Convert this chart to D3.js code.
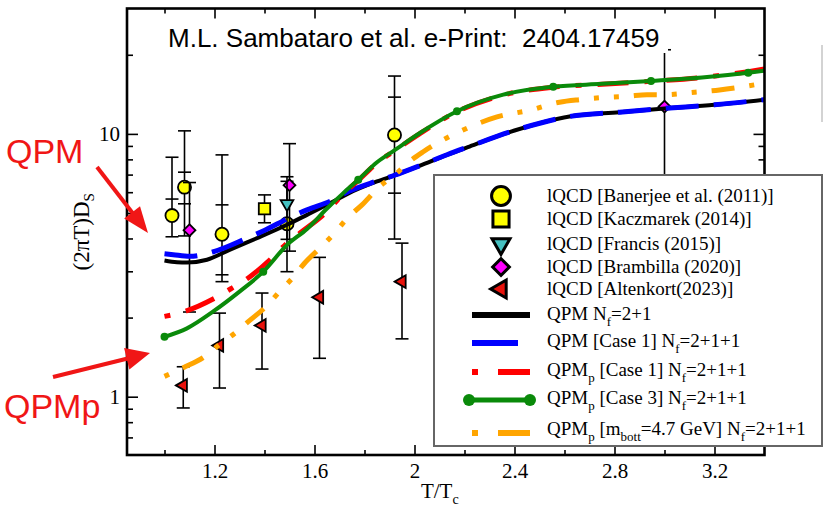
<!DOCTYPE html>
<html>
<head>
<meta charset="utf-8">
<script src="https://cdn.jsdelivr.net/npm/d3@7"></script>
<style>
  body { margin: 0; background: #fff; }
  svg { display: block; }
</style>
</head>
<body>
<svg id="chart" width="823" height="507"></svg>
<script>
// ---------- axis ticks ----------
const xTicksMajor = [1.2, 1.6, 2.0, 2.4, 2.8, 3.2];
const xTicksMinor = [1.0, 1.4, 1.8, 2.2, 2.6, 3.0];
const yTicksMajor = [1, 10];
const yTicksMinor = [0.7, 0.8, 0.9, 2, 3, 4, 5, 6, 7, 8, 9, 20];

// ---------- lattice QCD points (T/Tc, (2piT)Ds, error-bar cap values) ----------
const banerjeeT = [1.03, 1.08, 1.23, 1.49, 1.92];
const banerjeeD = [4.89, 6.27, 4.15, 4.55, 9.91];
const banerjeeCaps = [[4.06, 5.65, 8.15], [4.09, 5.42, 7.15, 10.27], [2.74, 2.91, 5.37, 8.32], [2.99, 6.6], [3.98, 5.95, 13.8, 16.6]];

const kaczmarekT = [1.40];
const kaczmarekD = [5.19];
const kaczmarekCaps = [[4.59, 5.86]];

const francisT = [1.49];
const francisD = [5.42];
const francisCaps = [[3.97, 6.87]];

const brambillaT = [1.10, 1.50, 3.00];
const brambillaD = [4.30, 6.38, 12.7];
const brambillaCaps = [[2.10, 6.53], [3.58, 9.18], [4.5, 20.9]];

const altenkortT = [1.075, 1.22, 1.39, 1.62, 1.95];
const altenkortD = [1.104, 1.567, 1.867, 2.39, 2.74];
const altenkortCaps = [[0.906, 1.30], [1.079, 2.08], [1.274, 2.48], [1.40, 3.39], [1.66, 3.84]];

// ---------- model curves ----------
const qpmT = [1.00, 1.05, 1.09, 1.17, 1.26, 1.38, 1.49, 1.57, 1.675, 1.73, 1.85, 1.92, 2.02, 2.13, 2.22, 2.40, 2.62, 2.82, 3.00, 3.20, 3.40];
const qpmD = [3.30, 3.25, 3.24, 3.32, 3.62, 4.05, 4.51, 4.92, 5.53, 5.9, 6.59, 6.95, 7.55, 8.32, 8.95, 10.3, 11.65, 12.1, 12.5, 12.9, 13.5];

const qpmCase1T = [1.00, 1.035, 1.10, 1.20, 1.33, 1.39, 1.51, 1.57, 1.675, 1.73, 1.85, 1.92, 2.02, 2.13, 2.22, 2.40, 2.62, 2.82, 3.00, 3.20, 3.40];
const qpmCase1D = [3.50, 3.47, 3.42, 3.57, 4.01, 4.25, 4.85, 5.14, 5.61, 6.0, 6.62, 6.96, 7.56, 8.33, 8.96, 10.3, 11.65, 12.1, 12.5, 12.9, 13.5];

const qpmpCase1T = [1.00, 1.08, 1.20, 1.27, 1.335, 1.435, 1.49, 1.55, 1.635, 1.715, 1.775, 1.85, 1.922, 2.02, 2.17, 2.355, 2.555, 2.75, 2.946, 3.15, 3.335, 3.40];
const qpmpCase1D = [2.02, 2.11, 2.37, 2.59, 2.83, 3.41, 3.84, 4.25, 4.92, 5.9, 6.65, 7.75, 8.65, 10.0, 12.15, 14.05, 15.05, 15.45, 15.85, 16.4, 17.25, 17.65];

const qpmpCase3T = [1.00, 1.09, 1.195, 1.30, 1.395, 1.49, 1.57, 1.65, 1.715, 1.775, 1.85, 1.922, 2.02, 2.17, 2.355, 2.555, 2.75, 2.946, 3.15, 3.335, 3.40];
const qpmpCase3D = [1.69, 1.82, 2.11, 2.51, 2.99, 3.78, 4.35, 5.2, 5.95, 6.69, 7.8, 8.69, 10.06, 12.2, 14.1, 15.1, 15.5, 15.9, 16.4, 17.1, 17.4];
const qpmpCase3MarkerT = [1.00, 1.395, 1.775, 2.17, 2.555, 2.946, 3.335];

const qpmpBottT = [1.00, 1.075, 1.155, 1.22, 1.28, 1.335, 1.41, 1.46, 1.515, 1.56, 1.635, 1.68, 1.735, 1.79, 1.86, 1.92, 1.98, 2.035, 2.115, 2.18, 2.26, 2.33, 2.46, 2.58, 2.66, 2.78, 2.85, 2.93, 3.00, 3.12, 3.22, 3.30, 3.40];
const qpmpBottD = [1.195, 1.29, 1.41, 1.58, 1.74, 1.93, 2.22, 2.51, 2.85, 3.22, 3.78, 4.19, 4.82, 5.37, 6.30, 6.96, 7.85, 8.55, 9.5, 10.2, 11.0, 11.6, 12.3, 13.2, 13.5, 13.8, 13.9, 14.1, 14.1, 14.4, 14.7, 15.05, 15.6];

// ---------- text ----------
const titleText = "M.L. Sambataro et al. e-Print:  2404.17459";
const legendLabels = [
  [["lQCD [Banerjee et al. (2011)]", 0]],
  [["lQCD [Kaczmarek (2014)]", 0]],
  [["lQCD [Francis (2015)]", 0]],
  [["lQCD [Brambilla (2020)]", 0]],
  [["lQCD [Altenkort(2023)]", 0]],
  [["QPM N", 0], ["f", 1], ["=2+1", 0]],
  [["QPM [Case 1] N", 0], ["f", 1], ["=2+1+1", 0]],
  [["QPM", 0], ["p", 1], [" [Case 1] N", 0], ["f", 1], ["=2+1+1", 0]],
  [["QPM", 0], ["p", 1], [" [Case 3] N", 0], ["f", 1], ["=2+1+1", 0]],
  [["QPM", 0], ["p", 1], [" [m", 0], ["bott", 1], ["=4.7 GeV] N", 0], ["f", 1], ["=2+1+1", 0]]
];

// ---------- setup ----------
const svg = d3.select("#chart");
const serif = "'Liberation Serif','Times New Roman',serif";
const sans = "'Liberation Sans',Arial,sans-serif";
const x = d3.scaleLinear().domain([0.85, 3.4]).range([127, 764.5]);
const y = d3.scaleLog().domain([0.6, 30]).range([455, 8.5]);

const C = {
  yellow: "#ffff00", teal: "#45c0c0", magenta: "#ff00ff", red: "#e8120c",
  blue: "#0000ff", lineRed: "#ff0000", green: "#0a8a0a", orange: "#ffa500"
};

const sym = {
  circle: { type: d3.symbolCircle, rot: 0 },
  square: { type: d3.symbolSquare, rot: 0 },
  triDown: { type: d3.symbolTriangle, rot: 180 },
  diamond: { type: d3.symbolSquare, rot: 45 },
  triLeft: { type: d3.symbolTriangle, rot: -90 }
};

// ---------- lattice points with error bars ----------
function drawPoints(T, D, caps, s, size, fill) {
  const g = svg.append("g");
  T.forEach((t, i) => {
    const cx = x(t), c = caps[i];
    g.append("line")
      .attr("x1", cx).attr("x2", cx)
      .attr("y1", y(d3.min(c))).attr("y2", y(d3.max(c)))
      .attr("stroke", "#000").attr("stroke-width", 1.6);
    c.forEach(v => {
      g.append("line")
        .attr("x1", cx - 6.5).attr("x2", cx + 6.5)
        .attr("y1", y(v)).attr("y2", y(v))
        .attr("stroke", "#000").attr("stroke-width", 1.6);
    });
  });
  g.selectAll("path.mk")
    .data(T.map((t, i) => [t, D[i]]))
    .join("path")
    .attr("class", "mk")
    .attr("d", d3.symbol(s.type, size))
    .attr("transform", d => `translate(${x(d[0])},${y(d[1])}) rotate(${s.rot})`)
    .attr("fill", fill).attr("stroke", "#000").attr("stroke-width", 1.8);
}

drawPoints(altenkortT, altenkortD, altenkortCaps, sym.triLeft, 70, C.red);
drawPoints(banerjeeT, banerjeeD, banerjeeCaps, sym.circle, 135, C.yellow);
drawPoints(kaczmarekT, kaczmarekD, kaczmarekCaps, sym.square, 130, C.yellow);
drawPoints(brambillaT, brambillaD, brambillaCaps, sym.diamond, 70, C.magenta);
drawPoints(francisT, francisD, francisCaps, sym.triDown, 70, C.teal);

// ---------- model curves ----------
const lineGen = d3.line().x(d => x(d[0])).y(d => y(d[1])).curve(d3.curveMonotoneX);
function drawCurve(T, D, color, width, dash) {
  svg.append("path")
    .datum(T.map((t, i) => [t, D[i]]))
    .attr("d", lineGen)
    .attr("fill", "none")
    .attr("stroke", color)
    .attr("stroke-width", width)
    .attr("stroke-dasharray", dash || null);
}

drawCurve(qpmT, qpmD, "#000", 4);
drawCurve(qpmCase1T, qpmCase1D, C.blue, 5, "33,15");
drawCurve(qpmpCase1T, qpmpCase1D, C.lineRed, 5, "6,16,31,16");
drawCurve(qpmpCase3T, qpmpCase3D, C.green, 4);
svg.append("g").selectAll("circle")
  .data(qpmpCase3MarkerT.map(t => [t, qpmpCase3D[qpmpCase3T.indexOf(t)]]))
  .join("circle")
  .attr("cx", d => x(d[0])).attr("cy", d => y(d[1])).attr("r", 4)
  .attr("fill", C.green);
drawCurve(qpmpBottT, qpmpBottD, C.orange, 5, "5,15,23,15,5,15");

// ---------- title ----------
svg.append("rect").attr("x", 160).attr("y", 20).attr("width", 508).attr("height", 33).attr("fill", "#fff");
svg.append("text")
  .attr("x", 168).attr("y", 47)
  .style("white-space", "pre")
  .attr("font-family", sans).attr("font-size", 26).attr("fill", "#000")
  .text(titleText);

// ---------- axes ----------
function styleAxis(g, labels) {
  g.select(".domain").remove();
  g.selectAll(".tick line").attr("stroke", "#000").attr("stroke-width", 1.6);
  if (labels) g.selectAll(".tick text").attr("font-family", serif).attr("font-size", 21).attr("fill", "#000");
  else g.selectAll(".tick text").remove();
}
const fmt = d3.format("");
const bottomY = y.range()[0], topY = y.range()[1];
const leftX = x.range()[0], rightX = x.range()[1];

svg.append("g").attr("transform", `translate(0,${bottomY})`)
  .call(d3.axisBottom(x).tickValues(xTicksMajor).tickSize(-10).tickPadding(8).tickFormat(fmt))
  .call(g => styleAxis(g, true));
svg.append("g").attr("transform", `translate(0,${bottomY})`)
  .call(d3.axisBottom(x).tickValues(xTicksMinor).tickSize(-5))
  .call(g => styleAxis(g, false));
svg.append("g").attr("transform", `translate(0,${topY})`)
  .call(d3.axisTop(x).tickValues(xTicksMajor).tickSize(-10))
  .call(g => styleAxis(g, false));
svg.append("g").attr("transform", `translate(0,${topY})`)
  .call(d3.axisTop(x).tickValues(xTicksMinor).tickSize(-5))
  .call(g => styleAxis(g, false));

svg.append("g").attr("transform", `translate(${leftX},0)`)
  .call(d3.axisLeft(y).tickValues(yTicksMajor).tickSize(-11).tickPadding(7).tickFormat(fmt))
  .call(g => styleAxis(g, true));
svg.append("g").attr("transform", `translate(${leftX},0)`)
  .call(d3.axisLeft(y).tickValues(yTicksMinor).tickSize(-6))
  .call(g => styleAxis(g, false));
svg.append("g").attr("transform", `translate(${rightX},0)`)
  .call(d3.axisRight(y).tickValues(yTicksMajor).tickSize(-11))
  .call(g => styleAxis(g, false));
svg.append("g").attr("transform", `translate(${rightX},0)`)
  .call(d3.axisRight(y).tickValues(yTicksMinor).tickSize(-6))
  .call(g => styleAxis(g, false));

svg.append("rect")
  .attr("x", leftX).attr("y", topY)
  .attr("width", rightX - leftX).attr("height", bottomY - topY)
  .attr("fill", "none").attr("stroke", "#000").attr("stroke-width", 2.6);

// axis titles
const xl = svg.append("text")
  .attr("x", (leftX + rightX) / 2 - 6).attr("y", 498)
  .attr("text-anchor", "middle")
  .attr("font-family", serif).attr("font-size", 21).attr("fill", "#000");
xl.append("tspan").text("T/T");
xl.append("tspan").attr("font-size", 14).attr("dy", 6).text("c");

const yl = svg.append("text")
  .attr("transform", `translate(89,${(topY + bottomY) / 2}) rotate(-90)`)
  .attr("text-anchor", "middle")
  .attr("font-family", serif).attr("font-size", 23).attr("fill", "#000");
yl.append("tspan").text("(2\u03C0T)D");
yl.append("tspan").attr("font-size", 15).attr("dy", 5).text("S");

// ---------- legend ----------
const lg = svg.append("g");
lg.append("rect")
  .attr("x", 434).attr("y", 175).attr("width", 388).attr("height", 271)
  .attr("fill", "#fff").attr("stroke", "#666").attr("stroke-width", 2);

const rowY = [196, 219, 244, 267, 289, 315, 343, 372, 400, 433];
const rowBase = [202, 225, 250, 273, 295, 320, 347, 376, 404, 435];
const markerRows = [
  [sym.circle, 280, C.yellow], [sym.square, 260, C.yellow], [sym.triDown, 140, C.teal],
  [sym.diamond, 140, C.magenta], [sym.triLeft, 140, C.red]
];
markerRows.forEach((m, i) => {
  lg.append("path")
    .attr("d", d3.symbol(m[0].type, m[1]))
    .attr("transform", `translate(501,${rowY[i]}) rotate(${m[0].rot})`)
    .attr("fill", m[2]).attr("stroke", "#000").attr("stroke-width", 3);
});
function seg(x1, x2, yy, color, w) {
  lg.append("line").attr("x1", x1).attr("x2", x2).attr("y1", yy).attr("y2", yy)
    .attr("stroke", color).attr("stroke-width", w);
}
seg(472, 530, rowY[5], "#000", 6);
seg(472, 518, rowY[6], C.blue, 6);
seg(472, 478, rowY[7], C.lineRed, 6); seg(498, 530, rowY[7], C.lineRed, 6);
seg(469, 530, rowY[8], C.green, 5);
lg.append("circle").attr("cx", 469).attr("cy", rowY[8]).attr("r", 6).attr("fill", C.green);
lg.append("circle").attr("cx", 530).attr("cy", rowY[8]).attr("r", 6).attr("fill", C.green);
seg(472, 478, rowY[9], C.orange, 6); seg(498, 530, rowY[9], C.orange, 6);

legendLabels.forEach((parts, i) => {
  const t = lg.append("text")
    .attr("x", 547).attr("y", rowBase[i])
    .style("white-space", "pre")
    .attr("font-family", serif).attr("font-size", 19).attr("fill", "#000");
  let shifted = false;
  parts.forEach(([s, sub]) => {
    const ts = t.append("tspan").text(s);
    if (sub && !shifted) { ts.attr("dy", 6).attr("font-size", 13); shifted = true; }
    else if (sub) { ts.attr("font-size", 13); }
    else if (shifted) { ts.attr("dy", -6); shifted = false; }
  });
});

// thin rule at the right edge
svg.append("line").attr("x1", 822).attr("x2", 822).attr("y1", 45).attr("y2", 122)
  .attr("stroke", "#c4c4c4").attr("stroke-width", 1.5);

// ---------- red annotations ----------
const annRed = "#f01616";
function arrow(x0, y0, x1, y1, headLen, headHalf) {
  const dx = x1 - x0, dy = y1 - y0, L = Math.hypot(dx, dy);
  const ux = dx / L, uy = dy / L, px = -uy, py = ux;
  const bx = x1 - ux * headLen, by = y1 - uy * headLen;
  svg.append("line").attr("x1", x0).attr("y1", y0).attr("x2", bx + ux * 2).attr("y2", by + uy * 2)
    .attr("stroke", annRed).attr("stroke-width", 4);
  svg.append("path")
    .attr("d", `M${x1},${y1}L${bx + px * headHalf},${by + py * headHalf}L${bx - px * headHalf},${by - py * headHalf}Z`)
    .attr("fill", annRed);
}
svg.append("text").attr("x", 6).attr("y", 163)
  .attr("font-family", sans).attr("font-size", 34).attr("fill", annRed).text("QPM");
svg.append("text").attr("x", 4).attr("y", 418)
  .attr("font-family", sans).attr("font-size", 34).attr("fill", annRed).text("QPMp");
arrow(97, 167, 148, 233, 26, 10);
arrow(53, 377, 150, 353, 24, 11);
</script>
</body>
</html>
